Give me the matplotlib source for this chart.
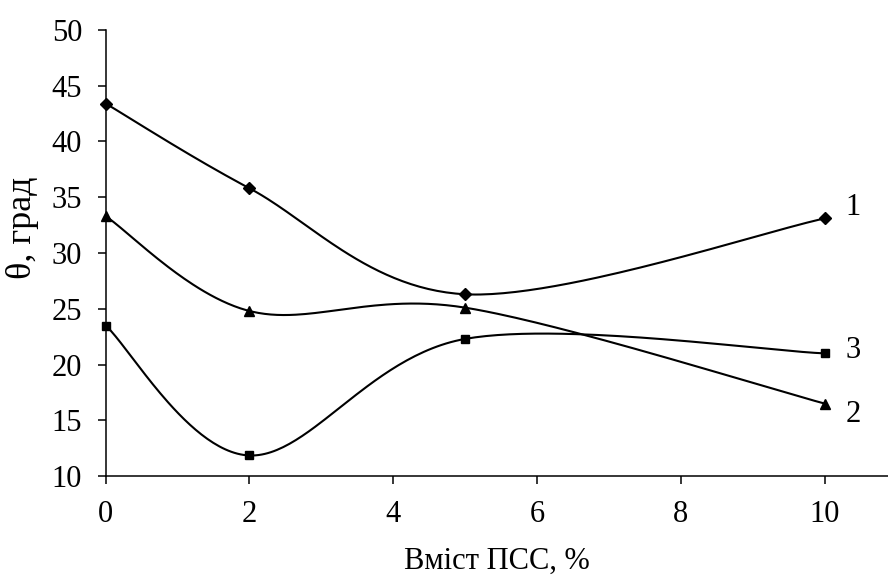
import matplotlib.pyplot as plt
import numpy as np

plt.rcParams["font.family"] = ["Liberation Serif", "DejaVu Serif"]

x = [0, 2, 5, 10]
y1 = [43.4, 35.8, 26.3, 33.1]
y2 = [33.3, 24.8, 25.1, 16.5]
y3 = [23.5, 11.85, 22.3, 21.0]
labels = ["1", "2", "3"]
label_y = [34.1, 15.5, 21.3]


def smooth(xs, ys, n=60):
    # bezier smoothing like the spreadsheet "smoothed line"
    p = np.column_stack([xs, ys]).astype(float)
    out = []
    for i in range(len(p) - 1):
        p0 = p[i - 1] if i > 0 else p[i]
        p1 = p[i]
        p2 = p[i + 1]
        p3 = p[i + 2] if i + 2 < len(p) else p[i + 1]
        c1 = p1 + (p2 - p0) / 6
        c2 = p2 - (p3 - p1) / 6
        t = np.linspace(0, 1, n)[:, None]
        b = ((1 - t) ** 3) * p1 + 3 * ((1 - t) ** 2) * t * c1 \
            + 3 * (1 - t) * t ** 2 * c2 + t ** 3 * p2
        out.append(b if i == 0 else b[1:])
    b = np.vstack(out)
    return b[:, 0], b[:, 1]


fig = plt.figure(figsize=(8.88, 5.75), dpi=100)
ax = fig.add_axes([0.119, 0.172, 0.881, 0.776])

for ys, m, ms in [(y1, "D", 5.8), (y2, "^", 6.8), (y3, "s", 5.5)]:
    sx, sy = smooth(x, ys)
    ax.plot(sx, sy, color="black", lw=1.5, clip_on=False)
    ax.plot(x, ys, ls="none", marker=m, ms=ms, color="black", clip_on=False, zorder=5)

for lab, ly in zip(labels, label_y):
    ax.text(10.4, ly, lab, fontsize=22, ha="center", va="center")

ax.set_xlim(0, 10.88)
ax.set_ylim(10, 50)
ax.set_xticks([0, 2, 4, 6, 8, 10])
ax.set_yticks(range(10, 51, 5))
ax.spines["top"].set_visible(False)
ax.spines["right"].set_visible(False)
for s in ["left", "bottom"]:
    ax.spines[s].set_linewidth(1.1)
ax.tick_params(direction="out", length=6, width=1.1, labelsize=22, pad=11)
ax.set_xlabel("Вміст ПСС, %", fontsize=22, va="center")
ax.xaxis.set_label_coords(0.5, -0.19)
ax.set_ylabel("θ, град", fontsize=26, va="center")
ax.yaxis.set_label_coords(-0.106, 0.557)

fig.savefig("out.png", dpi=100)
